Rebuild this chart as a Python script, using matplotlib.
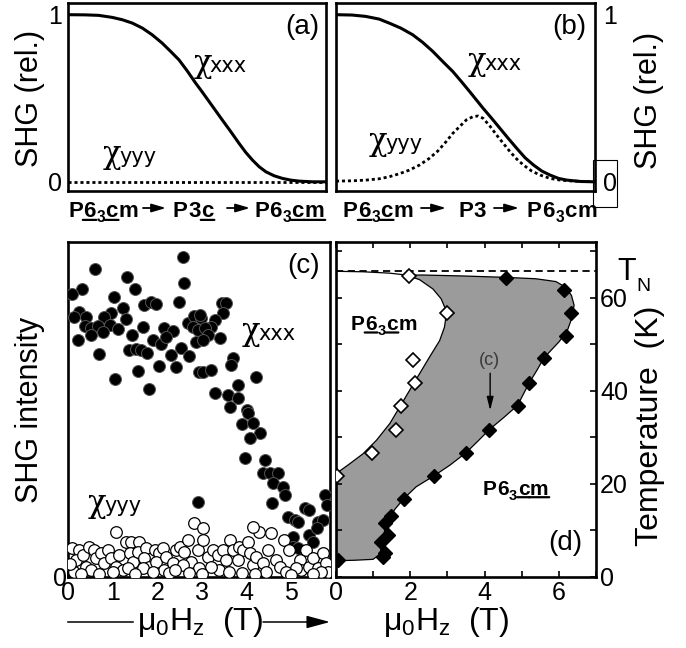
import numpy as np
import matplotlib.pyplot as plt
from matplotlib.patches import Rectangle

plt.rcParams['font.family'] = ['Liberation Sans', 'DejaVu Sans']
plt.rcParams['mathtext.fontset'] = 'custom'
plt.rcParams['mathtext.rm'] = 'Liberation Sans'
plt.rcParams['mathtext.it'] = 'Liberation Sans:italic'
plt.rcParams['mathtext.bf'] = 'Liberation Sans:bold'
plt.rcParams['axes.linewidth'] = 1.9

# (a) schematic SHG vs. field (relative field scale 0..1)
a_x = [0.0, 0.067, 0.119, 0.171, 0.210, 0.249, 0.288, 0.326, 0.365, 0.398, 0.430, 0.462,
       0.495, 0.521, 0.547, 0.573, 0.598, 0.631, 0.663, 0.689, 0.715, 0.741, 0.767, 0.799,
       0.832, 0.864, 0.896, 0.948, 1.0]
a_xxx = [1.0, 0.999, 0.996, 0.984, 0.970, 0.950, 0.920, 0.880, 0.830, 0.780, 0.730, 0.664,
         0.590, 0.536, 0.480, 0.424, 0.370, 0.300, 0.230, 0.176, 0.130, 0.090, 0.060, 0.036,
         0.020, 0.010, 0.004, 0.0, 0.0]
a_yyy_x = [0.0, 1.0]
a_yyy = [0.0, 0.0]

# (b)
b_x = [0.0, 0.062, 0.114, 0.166, 0.205, 0.250, 0.296, 0.335, 0.374, 0.412, 0.451, 0.484,
       0.516, 0.542, 0.568, 0.601, 0.633, 0.665, 0.698, 0.730, 0.763, 0.795, 0.827, 0.860,
       0.892, 0.944, 1.0]
b_xxx = [1.0, 0.998, 0.990, 0.974, 0.950, 0.920, 0.880, 0.834, 0.780, 0.720, 0.660, 0.600,
         0.540, 0.490, 0.440, 0.380, 0.320, 0.260, 0.200, 0.144, 0.100, 0.064, 0.040, 0.020,
         0.010, 0.002, 0.0]
b_yyy_x = [0.0, 0.062, 0.114, 0.166, 0.205, 0.244, 0.283, 0.322, 0.360, 0.393, 0.425, 0.451,
           0.477, 0.503, 0.529, 0.549, 0.568, 0.594, 0.620, 0.646, 0.672, 0.698, 0.724, 0.756,
           0.789, 0.827, 0.866, 0.918, 1.0]
b_yyy = [0.004, 0.006, 0.010, 0.018, 0.030, 0.048, 0.070, 0.100, 0.140, 0.184, 0.240, 0.290,
         0.330, 0.370, 0.390, 0.394, 0.380, 0.334, 0.280, 0.230, 0.180, 0.136, 0.100, 0.064,
         0.040, 0.020, 0.010, 0.004, 0.0]

# (c) measured SHG intensity (arb. units) vs. field (T)
c_field_xxx = [2.57, 0.61, 1.32, 2.61, 1.49, 0.31, 0.10, 1.02, 2.48, 1.71, 1.86, 1.97, 1.23,
               0.96, 0.25, 0.14, 0.40, 1.29, 0.81, 0.93, 0.37, 0.52, 0.67, 0.78, 0.52, 1.11,
               1.67, 2.16, 2.35, 2.68, 2.83, 2.80, 2.91, 0.22, 1.43, 1.91, 2.09, 2.20, 1.36,
               1.52, 1.64, 1.76, 0.70, 2.31, 2.53, 2.72, 2.87, 2.03, 2.42, 1.56, 1.06, 1.82,
               2.94, 3.44, 3.55, 3.48, 3.29, 3.21, 2.99, 3.06, 3.14, 3.03, 2.95, 3.40, 3.70,
               3.66, 3.03, 3.21, 4.22, 3.81, 3.29, 3.59, 3.81, 3.63, 4.00, 4.04, 3.89, 4.15,
               4.30, 4.07, 3.96, 4.41, 4.37, 4.52, 4.71, 4.60, 4.82, 4.86, 4.56, 4.93, 5.08,
               5.16, 5.31, 5.39, 5.61, 5.72, 5.76, 5.80, 5.05, 5.05, 5.16, 5.39, 5.49, 5.57,
               2.91]
c_int_xxx = [95.6, 91.8, 89.7, 87.9, 85.9, 85.9, 84.5, 83.5, 82.2, 81.2, 82.2, 81.5, 80.2,
             78.9, 79.2, 77.5, 77.7, 76.9, 77.7, 75.2, 74.9, 74.2, 74.9, 73.2, 72.2, 73.9,
             74.5, 74.2, 73.5, 75.7, 77.9, 74.5, 73.7, 70.7, 72.2, 70.7, 69.6, 71.7, 67.8,
             68.0, 67.8, 67.0, 66.6, 66.3, 68.3, 66.0, 70.2, 63.0, 62.8, 61.5, 59.0, 56.0,
             61.3, 81.9, 81.9, 78.7, 76.7, 74.7, 77.2, 74.2, 72.2, 70.7, 78.2, 71.2, 65.3,
             63.3, 61.3, 61.8, 59.8, 57.3, 54.8, 54.3, 53.3, 50.8, 49.9, 48.9, 45.6, 45.9,
             42.9, 41.4, 35.6, 34.9, 30.9, 30.9, 30.9, 28.0, 27.0, 24.5, 22.0, 18.0, 17.0,
             16.5, 20.5, 20.0, 16.5, 17.0, 24.5, 21.5, 12.0, 9.1, 8.6, 12.5, 10.5, 14.5,
             22.5]
c_field_yyy = [0.10, 0.25, 0.18, 0.33, 0.48, 0.59, 0.40, 0.14, 0.63, 0.52, 0.74, 0.89, 0.81,
               0.96, 1.08, 1.08, 1.23, 1.15, 1.30, 1.41, 1.38, 1.45, 1.34, 1.60, 1.56, 1.75,
               1.71, 1.82, 1.94, 2.05, 1.97, 2.12, 2.20, 2.16, 1.67, 2.35, 2.42, 2.50, 2.61,
               2.68, 2.83, 3.02, 2.91, 2.76, 2.57, 2.94, 2.27, 3.02, 3.13, 3.24, 3.36, 3.47,
               3.62, 3.54, 3.39, 3.69, 3.21, 3.84, 3.92, 4.03, 4.07, 3.80, 4.14, 4.29, 4.22,
               4.36, 4.48, 4.44, 4.55, 4.66, 4.74, 4.85, 4.96, 5.19, 5.22, 5.11, 5.34, 4.89,
               5.41, 5.49, 5.60, 5.71, 5.78, 5.82, 5.67, 4.15, 0.05, 0.30, 0.70, 1.00, 1.50,
               1.90, 2.40, 2.70, 3.00, 3.60, 3.90, 4.20, 5.00, 5.50]
c_int_yyy = [8.6, 8.1, 5.1, 6.6, 9.1, 8.1, 3.1, 1.6, 5.6, 2.1, 7.1, 8.1, 4.1,
             5.6, 13.5, 3.1, 2.1, 6.6, 10.5, 10.5, 7.1, 4.6, 2.6, 10.5, 7.6, 8.6,
             5.6, 3.1, 8.1, 7.1, 4.6, 8.6, 6.1, 2.1, 2.6, 4.1, 8.1, 9.1, 7.6,
             11.0, 16.0, 14.5, 8.1, 4.6, 3.6, 2.6, 1.1, 11.0, 6.1, 8.1, 6.6, 8.1,
             11.0, 5.1, 2.1, 8.1, 3.1, 9.1, 8.1, 10.5, 7.1, 5.1, 3.6, 13.5, 6.1,
             4.1, 8.1, 1.6, 13.0, 5.1, 3.1, 11.0, 8.1, 5.1, 2.1, 2.6, 8.1, 1.6,
             3.1, 5.6, 2.6, 7.1, 4.1, 1.6, 1.6, 14.8, 4.0, 1.0, 1.0, 1.5, 1.0,
             1.5, 2.0, 1.2, 0.8, 1.5, 1.2, 1.0, 0.5, 1.0]

# (d) phase diagram, field (T) vs temperature (K)
d_open_H = [1.97, 2.98, 2.07, 2.14, 1.74, 1.61, 0.98, 0.04]
d_open_T = [64.6, 56.7, 46.7, 41.7, 36.7, 31.7, 26.7, 21.7]
d_full_H = [4.57, 6.14, 6.34, 6.18, 5.60, 5.20, 4.89, 4.13, 3.50, 2.63, 1.82, 1.49, 1.31,
            1.40, 1.22, 1.31, 1.27, 0.06]
d_full_T = [64.2, 61.7, 56.7, 51.7, 47.1, 41.7, 36.7, 31.7, 26.7, 21.7, 16.8, 13.1, 11.5,
            9.0, 7.6, 5.1, 4.4, 3.6]
# phase boundaries
d_left_H = [0.0, 0.73, 1.45, 1.89, 2.25, 2.61, 2.83, 2.98, 2.92, 2.79, 2.52, 2.25, 1.98,
            1.72, 1.45, 1.09, 0.73, 0.38, 0.0]
d_left_T = [65.7, 65.6, 65.3, 64.9, 63.9, 61.9, 59.8, 57.0, 53.7, 50.8, 47.3, 43.7, 40.1,
            36.6, 33.0, 29.4, 26.5, 24.4, 22.2]
d_right_H = [1.89, 2.34, 3.41, 4.58, 5.38, 5.92, 6.18, 6.34, 6.41, 6.36, 6.23, 6.01, 5.60,
             5.40, 5.20, 4.89, 4.52, 4.13, 3.82, 3.50, 3.06, 2.63, 2.16, 1.82, 1.58, 1.42,
             1.31, 1.24, 1.18, 1.00, 0.50, 0.0]
d_right_T = [64.9, 64.9, 64.7, 64.4, 64.1, 63.5, 62.3, 60.5, 58.4, 55.9, 53.0, 50.6, 47.1,
             44.3, 41.7, 36.9, 34.3, 31.7, 29.2, 26.7, 24.0, 21.7, 19.4, 16.8, 14.5, 12.3,
             10.0, 7.0, 4.9, 3.8, 3.6, 3.5]
T_N = 65.7

W, H = 686, 648


def box(l, t, r, b):
    return [l / W, 1 - b / H, (r - l) / W, (b - t) / H]


def chi_label(ax, x, y, sub):
    t = ax.text(x, y, 'χ', fontsize=22, family='DejaVu Serif', va='baseline')
    ax.annotate(sub, xy=(1, y), xycoords=(t, 'data'), xytext=(-1.5, 0),
                textcoords='offset points', fontsize=15, family='DejaVu Sans',
                va='baseline')


def group(ax, x, y, parts, size):
    """bold space-group symbol; parts = (text, subscript?, underlined?)"""
    prev = None
    for s, sub, ul in parts:
        fs = size * 0.7 if sub else size
        dy = -0.24 * size if sub else 0
        xy, xyc = ((x, y), 'data') if prev is None else ((1, y), (prev, 'data'))
        t = ax.annotate(s, xy=xy, xycoords=xyc, xytext=(0 if prev is None else 0.4, dy),
                        textcoords='offset points', fontsize=fs, fontweight='bold',
                        va='baseline', ha='left', annotation_clip=False)
        if ul:
            ax.annotate('', xy=(1.05, 0.1), xycoords=t, xytext=(-0.05, 0.1), textcoords=t,
                        arrowprops=dict(arrowstyle='-', lw=1.6, color='black',
                                        shrinkA=0, shrinkB=0))
        prev = t


def arrow(ax, x0, y0, x1, y1, hl=0.85, hw=0.25, ms=10, lw=1.3, color='black'):
    ax.annotate('', xy=(x1, y1), xytext=(x0, y0),
                arrowprops=dict(arrowstyle=f'-|>,head_length={hl},head_width={hw}',
                                lw=lw, color=color, shrinkA=0, shrinkB=0,
                                mutation_scale=ms))


fig = plt.figure(figsize=(W / 100, H / 100), dpi=100)
ax_a = fig.add_axes(box(68, 3, 326, 191))
ax_b = fig.add_axes(box(336, 3, 595, 191))
ax_c = fig.add_axes(box(68, 242, 330, 577))
ax_d = fig.add_axes(box(336, 242, 596, 577))
ov = fig.add_axes([0, 0, 1, 1], zorder=5)
ov.set_xlim(0, W); ov.set_ylim(H, 0); ov.axis('off')

dotted = (0, (1.1, 1.05))

# ---- (a)
ax_a.plot(a_x, a_xxx, color='black', lw=2.2)
ax_a.plot(a_yyy_x, a_yyy, color='black', lw=2.0, ls=dotted)
ax_a.set_xlim(0, 1); ax_a.set_ylim(-0.055, 1.07)
ax_a.set_xticks([]); ax_a.set_yticks([0, 1])
ax_a.tick_params(axis='y', length=0, pad=4, labelsize=18)
ax_a.set_ylabel('SHG (rel.)', fontsize=22)
ax_a.yaxis.set_label_coords(-0.089, 0.495)
ax_a.text(0.973, 0.87, '(a)', transform=ax_a.transAxes, ha='right', va='center', fontsize=20)
chi_label(ax_a, 0.485, 0.66, 'xxx')
chi_label(ax_a, 0.136, 0.11, 'yyy')

# ---- (b)
ax_b.plot(b_x, b_xxx, color='black', lw=2.2)
ax_b.plot(b_yyy_x, b_yyy, color='black', lw=2.0, ls=dotted)
ax_b.set_xlim(0, 1); ax_b.set_ylim(-0.055, 1.07)
ax_b.set_xticks([]); ax_b.set_yticks([0, 1])
ax_b.yaxis.tick_right()
ax_b.tick_params(axis='y', length=0, pad=6, labelsize=18)
ax_b.yaxis.set_label_position('right')
ax_b.set_ylabel('SHG (rel.)', fontsize=22)
ax_b.yaxis.set_label_coords(1.151, 0.484)
ax_b.text(0.965, 0.87, '(b)', transform=ax_b.transAxes, ha='right', va='center', fontsize=20)
chi_label(ax_b, 0.51, 0.67, 'xxx')
chi_label(ax_b, 0.127, 0.19, 'yyy')
ov.add_patch(Rectangle((593, 160), 24, 47, fill=False, lw=0.8, ec='black'))

# space-group sequences under (a) and (b)
group(ov, 68, 217, [('P', 0, 0), ('6', 0, 1), ('3', 1, 0), ('c', 0, 1), ('m', 0, 0)], 16)
arrow(ov, 143, 208, 166, 208)
group(ov, 173, 217, [('P', 0, 0), ('3', 0, 0), ('c', 0, 1)], 16)
arrow(ov, 227, 208, 250, 208)
group(ov, 254, 217, [('P', 0, 0), ('6', 0, 0), ('3', 1, 0), ('c', 0, 1), ('m', 0, 1)], 16)
group(ov, 343, 217, [('P', 0, 0), ('6', 0, 1), ('3', 1, 0), ('c', 0, 1), ('m', 0, 0)], 16)
arrow(ov, 421, 208, 446, 208)
group(ov, 458, 217, [('P', 0, 0), ('3', 0, 0)], 16)
arrow(ov, 494, 208, 519, 208)
group(ov, 527, 217, [('P', 0, 0), ('6', 0, 0), ('3', 1, 0), ('c', 0, 0), ('m', 0, 0)], 16)

# ---- (c)
ax_c.scatter(c_field_xxx, c_int_xxx, s=74, facecolor='black', edgecolor='#555555',
             linewidth=0.7, zorder=3)
ax_c.scatter(c_field_yyy, c_int_yyy, s=70, facecolor='white', edgecolor='black',
             linewidth=0.9, zorder=4)
ax_c.set_xlim(0, 5.87); ax_c.set_ylim(0, 100)
ax_c.set_xticks(range(6)); ax_c.set_yticks([0])
ax_c.tick_params(axis='x', direction='in', length=4.5, width=1.2, pad=3, labelsize=18)
ax_c.tick_params(axis='y', length=0, pad=1, labelsize=18)
ax_c.set_ylabel('SHG intensity', fontsize=22)
ax_c.yaxis.set_label_coords(-0.088, 0.4985)
ax_c.set_xlabel(r'$\mathregular{\mu_0H_z}$  (T)', fontsize=23)
ax_c.xaxis.set_label_coords(0.506, -0.085)
ax_c.text(0.962, 0.928, '(c)', transform=ax_c.transAxes, ha='right', va='center', fontsize=20)
chi_label(ax_c, 3.9, 70.7, 'xxx')
chi_label(ax_c, 0.45, 19.4, 'yyy')
ov.plot([68, 133], [622, 622], color='black', lw=1.1)
arrow(ov, 263, 622, 330, 622, hl=1.3, hw=0.35, ms=11, lw=1.1)

# ---- (d)
ax_d.fill(d_right_H + d_left_H[::-1][:16], d_right_T + d_left_T[::-1][:16],
          color='#9b9b9b', lw=0, zorder=1)
ax_d.plot(d_left_H, d_left_T, color='black', lw=0.9, zorder=2)
ax_d.plot(d_right_H, d_right_T, color='black', lw=0.9, zorder=2)
ax_d.axhline(T_N, color='black', lw=1.3, ls=(0, (4, 2.5)), zorder=2)
ax_d.plot(d_open_H, d_open_T, ls='none', marker='D', ms=7.5, mfc='white', mec='black',
          mew=1.2, zorder=3)
ax_d.plot(d_full_H, d_full_T, ls='none', marker='D', ms=7.5, mfc='black', mec='black',
          mew=1.0, zorder=3)
ax_d.set_xlim(0, 7); ax_d.set_ylim(0, 72)
ax_d.set_xticks(range(8))
ax_d.set_xticklabels(['0', '', '2', '', '4', '', '6', ''])
ax_d.set_yticks(range(0, 80, 10))
ax_d.set_yticklabels(['0', '', '20', '', '40', '', '60', ''])
ax_d.tick_params(axis='both', direction='in', length=4.5, width=1.2, top=True, right=True,
                 labelsize=18, pad=3)
ax_d.tick_params(axis='y', labelleft=False, labelright=True)
ax_d.yaxis.set_label_position('right')
ax_d.set_ylabel('Temperature  (K)', fontsize=23)
ax_d.yaxis.set_label_coords(1.15, 0.45)
ax_d.set_xlabel(r'$\mathregular{\mu_0H_z}$  (T)', fontsize=23)
ax_d.xaxis.set_label_coords(0.423, -0.085)
ax_d.text(0.946, 0.10, '(d)', transform=ax_d.transAxes, ha='right', va='center', fontsize=20)
ax_d.text(4.13, 46.6, '(c)', ha='center', va='center', fontsize=13, color='#3a3a3a')
arrow(ax_d, 4.15, 43.8, 4.15, 35.8, hl=0.8, hw=0.2, ms=10, lw=1.0)
group(ax_d, 0.4, 53.0, [('P', 0, 0), ('6', 0, 1), ('3', 1, 0), ('c', 0, 1), ('m', 0, 0)], 15)
group(ax_d, 3.94, 17.6, [('P', 0, 0), ('6', 0, 0), ('3', 1, 0), ('c', 0, 1), ('m', 0, 1)], 15)
tn = ov.text(617, 280, 'T', fontsize=22, va='baseline')
ov.annotate('N', xy=(1, 280), xycoords=(tn, 'data'), xytext=(0.5, -8),
            textcoords='offset points', fontsize=14, va='baseline')

fig.savefig('out.png', dpi=100)
